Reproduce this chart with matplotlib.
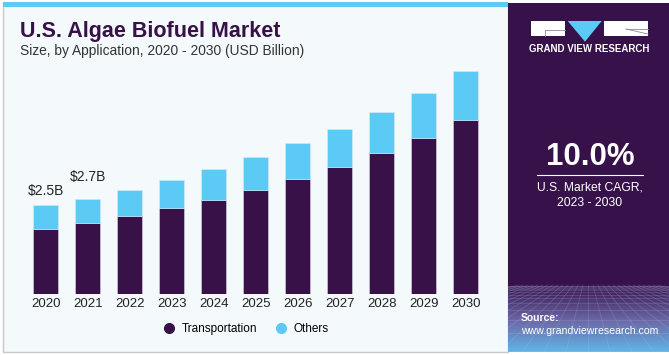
import matplotlib
matplotlib.use("Agg")
import matplotlib.pyplot as plt
import numpy as np
from matplotlib.patches import Rectangle, Polygon
from matplotlib.lines import Line2D

years = ["2020", "2021", "2022", "2023", "2024", "2025", "2026", "2027", "2028", "2029", "2030"]
transportation = [1.83, 2.01, 2.21, 2.41, 2.66, 2.93, 3.25, 3.59, 3.98, 4.40, 4.89]
totals = [2.50, 2.68, 2.93, 3.21, 3.52, 3.87, 4.25, 4.64, 5.14, 5.67, 6.27]
others = [t - tr for t, tr in zip(totals, transportation)]
value_labels = {0: "$2.5B", 1: "$2.7B"}

DARK = "#371148"
LIGHT = "#5bcbf5"
BG = "#f4f9fc"
FONT = "Liberation Sans"

W, H = 669, 355
fig = plt.figure(figsize=(W / 100, H / 100), dpi=100)
fig.patch.set_facecolor("white")

def px(x, y):
    return x / W, 1 - y / H

# left panel background
fig.add_artist(Rectangle((3 / W, 3 / H), (508 - 3) / W, (352 - 3) / H, transform=fig.transFigure,
                         facecolor=BG, edgecolor="#c8c8c8", lw=1.0, zorder=0))
# top blue strip
fig.add_artist(Rectangle((3 / W, 1 - 7 / H), (508 - 3) / W, 5 / H, transform=fig.transFigure,
                         facecolor=LIGHT, edgecolor="none", zorder=1))

# right panel
rax = fig.add_axes([508 / W, 3 / H, (669 - 508) / W, (352 - 3) / H])
rax.set_xlim(0, 161)
rax.set_ylim(349, 0)
rax.axis("off")
n = 349
grad = np.zeros((n, 2, 3))
c0 = np.array(matplotlib.colors.to_rgb("#37114a"))
c1 = np.array(matplotlib.colors.to_rgb("#6c6aa8"))
c2 = np.array(matplotlib.colors.to_rgb("#5fb8e8"))
for i in range(n):
    if i < 280:
        c = c0
    elif i < 318:
        g = (i - 280) / 38
        c = c0 * (1 - g) + c1 * g
    else:
        g = (i - 318) / 31
        c = c1 * (1 - g) + c2 * g
    grad[i, :, :] = c
rax.imshow(grad, extent=[0, 161, 349, 0], aspect="auto", zorder=0)
# perspective grid at bottom
for k in range(-14, 15):
    rax.plot([80 + k * 5, 80 + k * 22], [282, 349], color="#b8c8ee", lw=0.4, alpha=0.3, zorder=1)
for yy in np.geomspace(1, 66, 14):
    rax.plot([0, 161], [282 + yy, 282 + yy], color="#b8c8ee", lw=0.4, alpha=0.3, zorder=1)

# logo
rax.add_patch(Rectangle((23, 18), 34, 15, facecolor="white", edgecolor="none", zorder=2))
rax.plot([37, 57], [27, 27], color="#8a8a9a", lw=0.6, zorder=3)
rax.plot([37, 37], [27, 33], color="#8a8a9a", lw=0.6, zorder=3)
rax.add_patch(Polygon([[59.7, 18], [93.7, 18], [77, 38.7]], closed=True, facecolor=LIGHT,
                      edgecolor="none", zorder=2))
rax.add_patch(Rectangle((96, 18), 44, 15, facecolor="white", edgecolor="none", zorder=2))
rax.plot([118, 140], [26, 31], color="#8a8a9a", lw=0.6, zorder=3)
rax.plot([118, 140], [26, 26], color="#8a8a9a", lw=0.6, zorder=3)
rax.text(81.5, 46.3, "GRAND VIEW RESEARCH", color="white", fontsize=7, fontweight="bold",
         ha="center", va="center", family=FONT, zorder=3)
rax.text(82, 154, "10.0%", color="white", fontsize=22.5, fontweight="bold",
         ha="center", va="center", family=FONT, zorder=3)
rax.plot([29, 135], [172, 172], color="white", lw=0.8, zorder=3)
rax.text(82, 185, "U.S. Market CAGR,", color="white", fontsize=8.7,
         ha="center", va="center", family=FONT, zorder=3)
rax.text(82, 200, "2023 - 2030", color="white", fontsize=8.7,
         ha="center", va="center", family=FONT, zorder=3)
rax.text(13, 315, "Source:", color="white", fontsize=7.5, fontweight="bold",
         ha="left", va="center", family=FONT, zorder=3)
rax.text(13, 328, "www.grandviewresearch.com", color="white", fontsize=7.6,
         ha="left", va="center", family=FONT, zorder=3)

# titles
fig.text(*px(20, 31), "U.S. Algae Biofuel Market", fontsize=15.5, fontweight="bold",
         color=DARK, ha="left", va="center", family=FONT)
fig.text(*px(20, 51), "Size, by Application, 2020 - 2030 (USD Billion)", fontsize=9.9,
         color="#333333", ha="left", va="center", family=FONT)

# main chart
ax = fig.add_axes([24.7 / W, 1 - 294 / H, 462 / W, 248.5 / H])
ax.set_facecolor("none")
x = np.arange(len(years))
ax.bar(x, transportation, width=0.59, color=DARK, edgecolor="#d8d8e4", linewidth=0.4, zorder=2)
ax.bar(x, others, bottom=transportation, width=0.59, color=LIGHT, edgecolor="#d8eaf5",
       linewidth=0.4, zorder=2)
ax.set_xlim(-0.5, len(years) - 0.5)
ax.set_ylim(0, 7)
ax.set_xticks(x)
ax.set_xticklabels(years, fontsize=9.5, family=FONT, color="#222222")
ax.tick_params(axis="x", length=0, pad=3)
ax.set_yticks([])
for s in ax.spines.values():
    s.set_visible(False)
label_offsets = {0: 14, 1: 22}
for i, lab in value_labels.items():
    ax.annotate(lab, (x[i], totals[i]), xytext=(0, label_offsets[i] * 0.72), textcoords="offset points",
                ha="center", va="center", fontsize=10, family=FONT, color="#222222")

# legend
handles = [Line2D([], [], marker="o", linestyle="none", markersize=7, color=DARK, label="Transportation"),
           Line2D([], [], marker="o", linestyle="none", markersize=7, color=LIGHT, label="Others")]
fig.legend(handles=handles, loc="center", bbox_to_anchor=px(243, 329), ncol=2, frameon=False,
           prop={"family": FONT, "size": 8.5}, handletextpad=0.1, columnspacing=1.0)

fig.savefig("out.png", dpi=100, facecolor=fig.get_facecolor())
